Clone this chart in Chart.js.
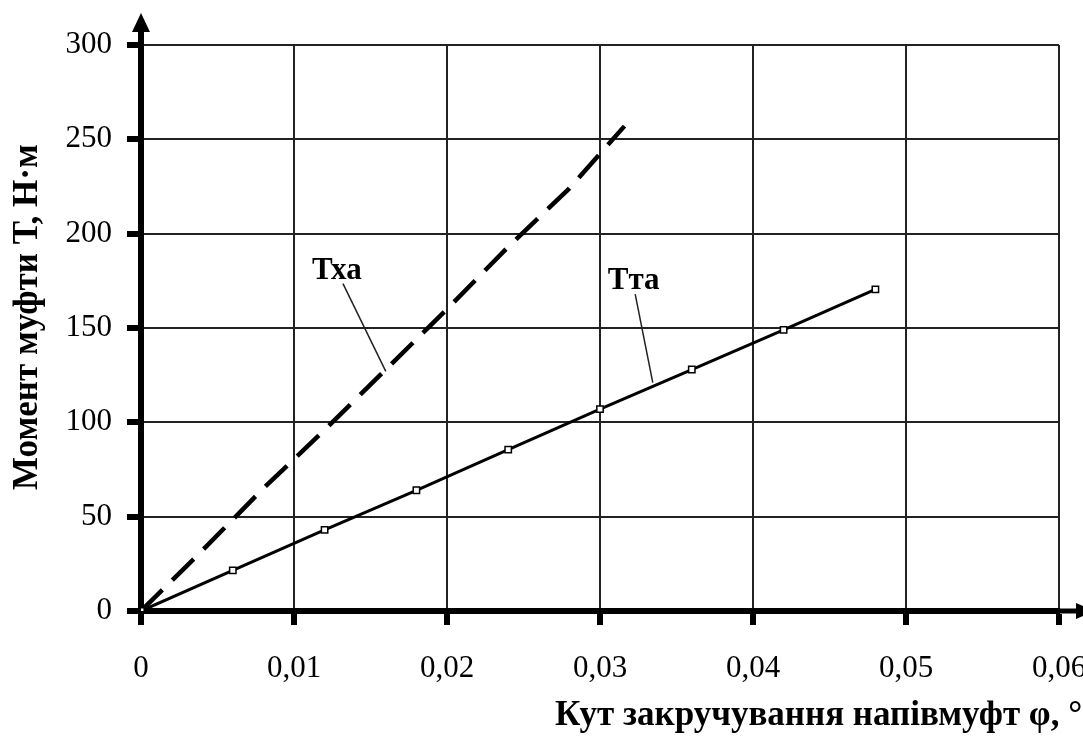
<!DOCTYPE html>
<html>
<head>
<meta charset="utf-8">
<script src="https://cdn.jsdelivr.net/npm/chart.js@4/dist/chart.umd.min.js"></script>
<style>
  html, body { margin: 0; padding: 0; background: #fff; }
  #wrap { width: 1083px; height: 742px; position: relative; }
</style>
</head>
<body>
<div id="wrap"><canvas id="c" width="1083" height="742"></canvas></div>
<script>
// Twist angle of the coupling halves and coupling torque (N·m)
const phiTta = [0, 0.006, 0.012, 0.018, 0.024, 0.030, 0.036, 0.042, 0.048];
const torqueTta = [0, 21.5, 43, 64, 85.5, 107, 128, 149, 170.5];

const phiTxa = [0, 0.004, 0.008, 0.012, 0.016, 0.020, 0.024, 0.028, 0.0316];
const torqueTxa = [0, 32, 65, 96, 128, 160, 193, 224, 257];

const xTickLabels = ['0', '0,01', '0,02', '0,03', '0,04', '0,05', '0,06'];
const yTickLabels = ['0', '50', '100', '150', '200', '250', '300'];

const xTitle = 'Кут закручування напівмуфт φ, °';
const yTitle = 'Момент муфти Т, Н·м';

// Curve labels with leader lines: [text, label centre, leader start, leader end] in data units
const curveLabels = [
  { text: 'Тха', at: [0.0128, 180], from: [0.0132, 173.5], to: [0.0160, 127] },
  { text: 'Тта', at: [0.0322, 175], from: [0.0323, 168], to: [0.03345, 121] }
];

const serif = '"Liberation Serif", "Times New Roman", serif';

const toPoints = (xs, ys) => xs.map((x, i) => ({ x: x, y: ys[i] }));

// Axis arrows, axis titles and curve labels
const decorations = {
  id: 'decorations',
  afterDraw(chart) {
    const ctx = chart.ctx;
    const area = chart.chartArea;
    const xs = chart.scales.x, ys = chart.scales.y;
    ctx.save();
    ctx.fillStyle = '#000';
    ctx.strokeStyle = '#000';

    // y axis extension and arrow head
    ctx.lineWidth = 6;
    ctx.beginPath();
    ctx.moveTo(area.left, area.top);
    ctx.lineTo(area.left, 30);
    ctx.stroke();
    ctx.beginPath();
    ctx.moveTo(area.left, 13);
    ctx.lineTo(area.left - 9, 32);
    ctx.lineTo(area.left + 9, 32);
    ctx.closePath();
    ctx.fill();

    // x axis extension and arrow head
    ctx.lineWidth = 5;
    ctx.beginPath();
    ctx.moveTo(area.right, area.bottom);
    ctx.lineTo(1078, area.bottom);
    ctx.stroke();
    ctx.beginPath();
    ctx.moveTo(1094, area.bottom);
    ctx.lineTo(1076, area.bottom - 8);
    ctx.lineTo(1076, area.bottom + 8);
    ctx.closePath();
    ctx.fill();

    // axis titles
    ctx.font = 'bold 35px ' + serif;
    ctx.textBaseline = 'alphabetic';
    ctx.textAlign = 'left';
    ctx.fillText(xTitle, 555, 725);

    ctx.save();
    ctx.translate(37, 490);
    ctx.rotate(-Math.PI / 2);
    ctx.textAlign = 'left';
    ctx.fillText(yTitle, 0, 0);
    ctx.restore();

    // curve labels and leader lines
    ctx.lineWidth = 1.5;
    ctx.strokeStyle = '#222';
    ctx.font = 'bold 31px ' + serif;
    ctx.textAlign = 'center';
    ctx.textBaseline = 'middle';
    curveLabels.forEach(l => {
      ctx.beginPath();
      ctx.moveTo(xs.getPixelForValue(l.from[0]), ys.getPixelForValue(l.from[1]));
      ctx.lineTo(xs.getPixelForValue(l.to[0]), ys.getPixelForValue(l.to[1]));
      ctx.stroke();
      ctx.fillText(l.text, xs.getPixelForValue(l.at[0]), ys.getPixelForValue(l.at[1]));
    });
    ctx.restore();
  }
};

new Chart(document.getElementById('c'), {
  type: 'line',
  data: {
    datasets: [
      {
        label: 'Тта',
        data: toPoints(phiTta, torqueTta),
        borderColor: '#000',
        borderWidth: 3,
        pointStyle: 'rect',
        pointRadius: 4.5,
        pointBackgroundColor: '#fff',
        pointBorderColor: '#000',
        pointBorderWidth: 1.5,
        tension: 0
      },
      {
        label: 'Тха',
        data: toPoints(phiTxa, torqueTxa),
        borderColor: '#000',
        borderWidth: 4.5,
        borderDash: [30, 14],
        pointRadius: 0,
        tension: 0
      }
    ]
  },
  options: {
    responsive: false,
    devicePixelRatio: 1,
    animation: false,
    layout: { padding: { top: 45, right: 24, left: 0, bottom: 0 } },
    plugins: {
      legend: { display: false },
      tooltip: { enabled: false }
    },
    scales: {
      x: {
        type: 'linear',
        min: 0,
        max: 0.06,
        afterFit: s => { s.height = 131; s.paddingLeft = 0; s.paddingRight = 0; },
        border: { display: true, color: '#000', width: 6 },
        grid: {
          color: '#222',
          lineWidth: 2,
          tickLength: 14,
          tickWidth: 6,
          tickColor: '#000'
        },
        ticks: {
          stepSize: 0.01,
          padding: 25,
          color: '#000',
          maxRotation: 0,
          font: { family: serif, size: 31 },
          callback: (v, i) => xTickLabels[i]
        }
      },
      y: {
        min: 0,
        max: 300,
        afterFit: s => { s.width = 141; s.paddingTop = 0; s.paddingBottom = 0; },
        border: { display: true, color: '#000', width: 6 },
        grid: {
          color: '#222',
          lineWidth: 2,
          tickLength: 14,
          tickWidth: 6,
          tickColor: '#000'
        },
        ticks: {
          stepSize: 50,
          padding: 15,
          color: '#000',
          font: { family: serif, size: 31 },
          callback: (v, i) => yTickLabels[i]
        }
      }
    }
  },
  plugins: [decorations]
});
</script>
</body>
</html>
